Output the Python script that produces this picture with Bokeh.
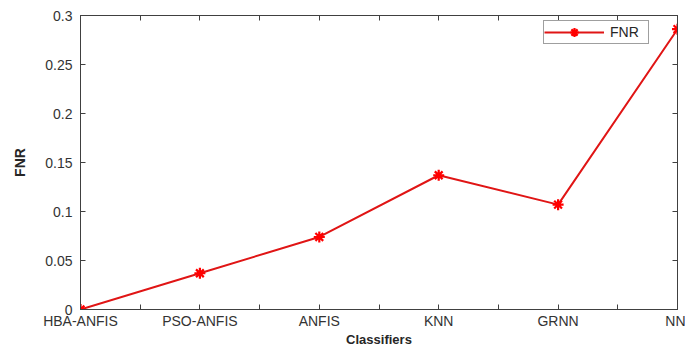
from bokeh.plotting import figure
from bokeh.models import FixedTicker, LinearAxis, Range1d, CustomJSTickFormatter, Legend, LegendItem, ColumnDataSource
from bokeh.embed import file_html
from bokeh.resources import INLINE

classifiers = ["HBA-ANFIS", "PSO-ANFIS", "ANFIS", "KNN", "GRNN", "NN"]
fnr = [0.0, 0.037, 0.074, 0.137, 0.107, 0.286]
y_ticks = [0, 0.05, 0.1, 0.15, 0.2, 0.25, 0.3]

xs = list(range(1, len(classifiers) + 1))
src = ColumnDataSource(dict(x=xs, y=fnr, name=classifiers))

AX = "#404040"
FONT = "Liberation Sans"

p = figure(width=685, height=349, output_backend="svg", toolbar_location=None,
           x_range=Range1d(1, len(classifiers)), y_range=Range1d(0, 0.3),
           min_border_left=80, min_border_right=8, min_border_top=15, min_border_bottom=36)
p.xgrid.visible = False
p.ygrid.visible = False
p.outline_line_color = AX
p.background_fill_color = "white"
p.border_fill_color = "white"

minor_x = [i + 0.5 for i in range(1, len(classifiers))]
xt = FixedTicker(ticks=xs, minor_ticks=minor_x)
yt = FixedTicker(ticks=y_ticks, minor_ticks=[])

fmt_y = CustomJSTickFormatter(code="return tick.toFixed(2).replace(/0+$/,'').replace(/\\.$/,'');")
labels_js = "var L=%s; var i=Math.round(tick)-1; return (i>=0 && i<L.length)? L[i] : '';" % str(classifiers).replace("'", '"')
fmt_x = CustomJSTickFormatter(code=labels_js)
fmt_blank = CustomJSTickFormatter(code="return '';")

def style(ax):
    ax.axis_line_color = AX
    ax.major_tick_line_color = AX
    ax.minor_tick_line_color = AX
    ax.major_tick_in = 5
    ax.major_tick_out = 0
    ax.minor_tick_in = 5
    ax.minor_tick_out = 0
    ax.major_label_text_font = FONT
    ax.major_label_text_color = "#333333"
    ax.axis_label_text_font = FONT
    ax.axis_label_text_font_style = "bold"
    ax.axis_label_text_color = "#262626"
    ax.axis_label_text_font_size = "14px"

xa = p.xaxis[0]
xa.ticker = xt
xa.formatter = fmt_x
style(xa)
xa.major_label_text_font_size = "14px"
xa.major_label_standoff = 3
xa.axis_label = "Classifiers"
xa.axis_label_text_font_size = "13px"
xa.axis_label_standoff = 0

ya = p.yaxis[0]
ya.ticker = yt
ya.formatter = fmt_y
style(ya)
ya.major_label_text_font_size = "14px"
ya.major_label_standoff = 8
ya.axis_label = "FNR"
ya.axis_label_standoff = 14

top = LinearAxis(ticker=xt, formatter=fmt_blank)
style(top)
top.major_label_standoff = 0
top.major_label_text_font_size = "6px"
p.add_layout(top, "above")
right = LinearAxis(ticker=yt, formatter=fmt_blank)
style(right)
right.major_label_standoff = 0
right.major_label_text_font_size = "6px"
p.add_layout(right, "right")

RED = "#e01515"
ln = p.line("x", "y", source=src, line_color=RED, line_width=2)
mk = p.scatter("x", "y", source=src, marker="asterisk", size=11, line_color="#ff0000", line_width=2.2)

legend = Legend(items=[LegendItem(label="FNR", renderers=[ln, mk])],
                location=(463, 265), orientation="vertical")
legend.label_text_font = FONT
legend.label_text_font_size = "14px"
legend.label_text_color = "#262626"
legend.border_line_color = AX
legend.border_line_width = 1
legend.glyph_width = 60
legend.glyph_height = 22
legend.padding = 0
legend.margin = 0
legend.spacing = 0
legend.label_standoff = 6
legend.label_width = 38
legend.label_height = 22
legend.background_fill_alpha = 1
p.add_layout(legend, "center")

open("out.html", "w").write(file_html(p, INLINE))
